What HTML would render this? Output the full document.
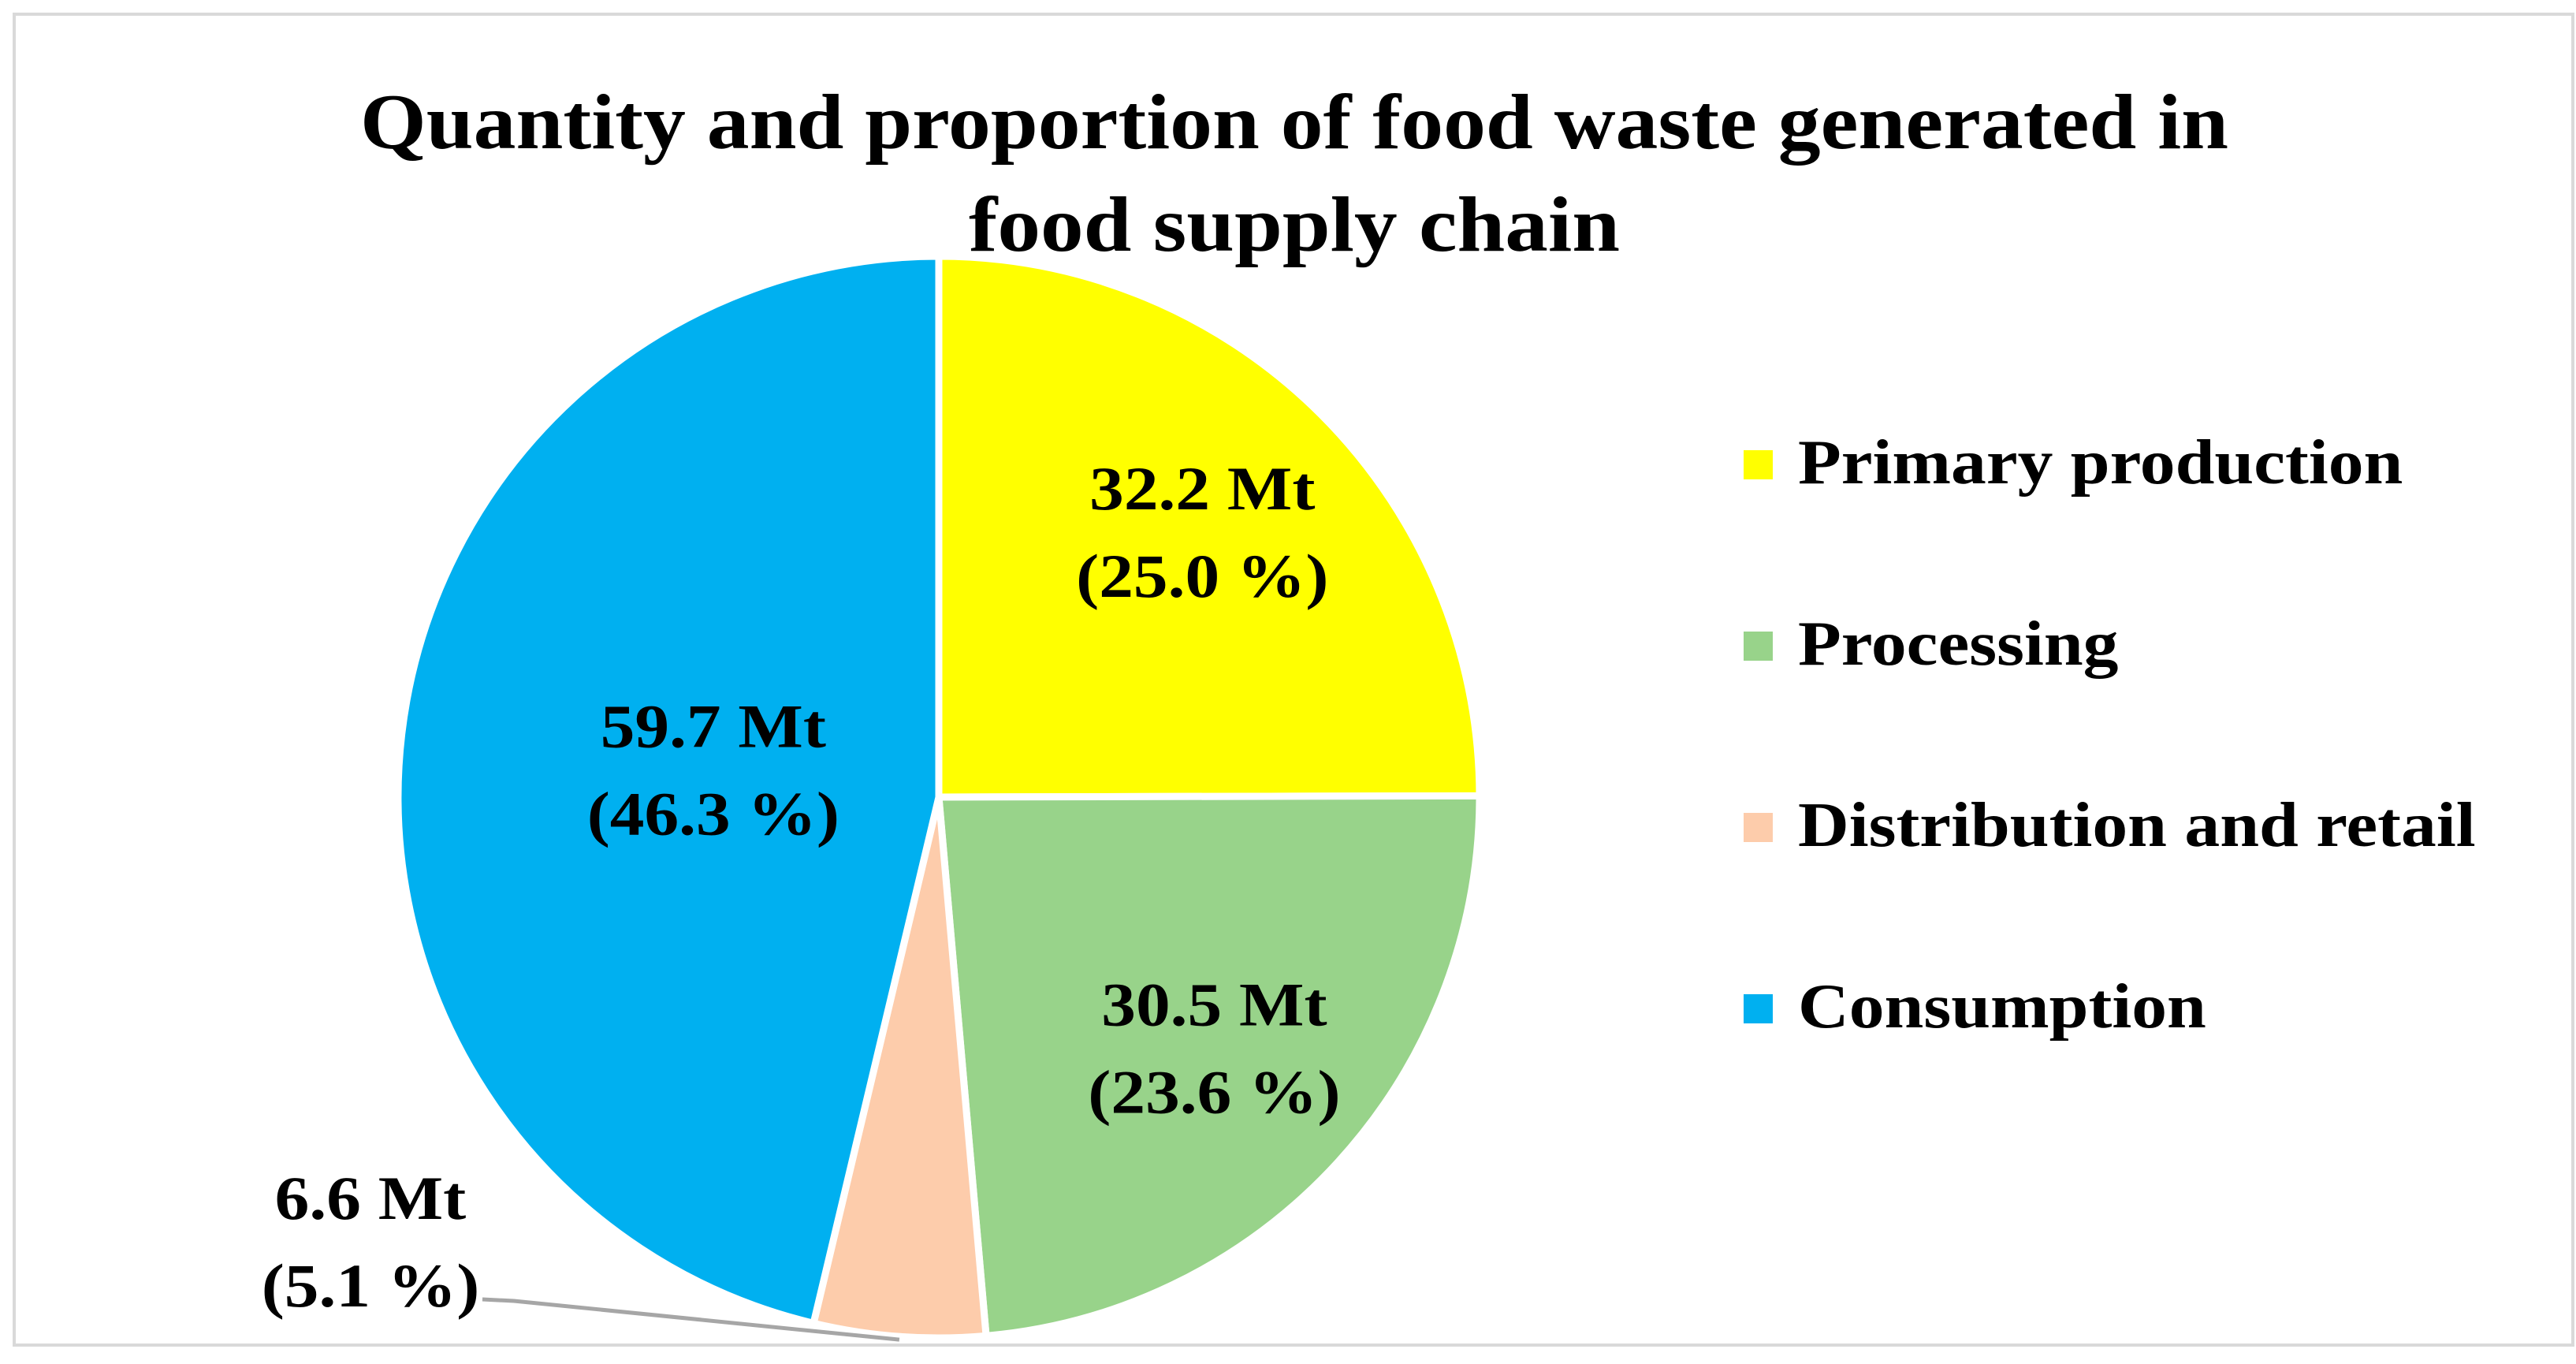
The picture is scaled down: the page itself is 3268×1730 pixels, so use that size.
<!DOCTYPE html>
<html><head><meta charset="utf-8"><style>
html,body{margin:0;padding:0;background:#fff;}
svg{display:block;font-family:"Liberation Serif",serif;font-weight:bold;}
</style></head><body>
<svg id="chart" width="3268" height="1730" viewBox="0 0 3268 1730">
<rect x="18" y="18" width="3246" height="1688" fill="#fff" stroke="#d9d9d9" stroke-width="4"/>
<text x="1642" y="188" font-size="100" text-anchor="middle" textLength="2370" lengthAdjust="spacingAndGlyphs">Quantity and proportion of food waste generated in</text>
<text x="1642" y="318" font-size="100" text-anchor="middle" textLength="826" lengthAdjust="spacingAndGlyphs">food supply chain</text>
<g id="slices"></g>
<g id="labels"></g>
<g id="legend"></g>
</svg>
<script>
const categories=["Primary production","Processing","Distribution and retail","Consumption"];
const values=[32.2,30.5,6.6,59.7];
const percents=["25.0","23.6","5.1","46.3"];
const colors=["#ffff00","#98d38a","#fdccab","#00b0f0"];
const NS="http://www.w3.org/2000/svg";
const cx=1191,cy=1011,R=686;
const total=values.reduce((a,b)=>a+b,0);
function pt(a,r){return [cx+r*Math.sin(a),cy-r*Math.cos(a)];}
function widen(t){const w=t.getComputedTextLength();t.setAttribute('textLength',w*1.12);t.setAttribute('lengthAdjust','spacingAndGlyphs');}
const gS=document.getElementById('slices'),gL=document.getElementById('labels'),gG=document.getElementById('legend');
let acc=0;
values.forEach((v,i)=>{
  const a0=acc/total*2*Math.PI; acc+=v; const a1=acc/total*2*Math.PI;
  const p0=pt(a0,R),p1=pt(a1,R);
  const large=(a1-a0)>Math.PI?1:0;
  const p=document.createElementNS(NS,'path');
  p.setAttribute('d',`M${cx},${cy} L${p0[0]},${p0[1]} A${R},${R} 0 ${large} 1 ${p1[0]},${p1[1]} Z`);
  p.setAttribute('fill',colors[i]);p.setAttribute('stroke','#fff');p.setAttribute('stroke-width','9');p.setAttribute('stroke-linejoin','round');
  
  
  gS.appendChild(p);
  const am=(a0+a1)/2;
  const frac=v/total;
  let lx,ly;
  if(frac<0.1){lx=470;ly=1576;
    const ln=document.createElementNS(NS,'polyline');
    const e=pt(am,R);
    ln.setAttribute('points',`612,1648 652,1650 ${e[0]},${e[1]+4}`);
    ln.setAttribute('fill','none');ln.setAttribute('stroke','#a6a6a6');ln.setAttribute('stroke-width','5');
    
    
    gL.appendChild(ln);
  } else {const c=pt(am,R*(frac>0.4?0.42:0.69));lx=c[0];ly=c[1];}
  const t1=document.createElementNS(NS,'text');
  t1.setAttribute('x',lx);t1.setAttribute('y',ly-30);t1.setAttribute('font-size','78');t1.setAttribute('text-anchor','middle');
  t1.textContent=v.toFixed(1)+' Mt';
  
  
  gL.appendChild(t1);widen(t1);
  const t2=document.createElementNS(NS,'text');
  t2.setAttribute('x',lx);t2.setAttribute('y',ly+81);t2.setAttribute('font-size','78');t2.setAttribute('text-anchor','middle');
  t2.textContent='('+percents[i]+' %)';
  
  
  gL.appendChild(t2);widen(t2);
});
categories.forEach((c,i)=>{
  const r=document.createElementNS(NS,'rect');
  r.setAttribute('x',2212);r.setAttribute('y',571+230*i);r.setAttribute('width',37);r.setAttribute('height',37);r.setAttribute('fill',colors[i]);
  
  
  gG.appendChild(r);
  const t=document.createElementNS(NS,'text');
  t.setAttribute('x',2281);t.setAttribute('y',613+230*i);t.setAttribute('font-size','80');
  t.textContent=c;
  
  
  gG.appendChild(t);widen(t);
});
</script>
</body></html>
